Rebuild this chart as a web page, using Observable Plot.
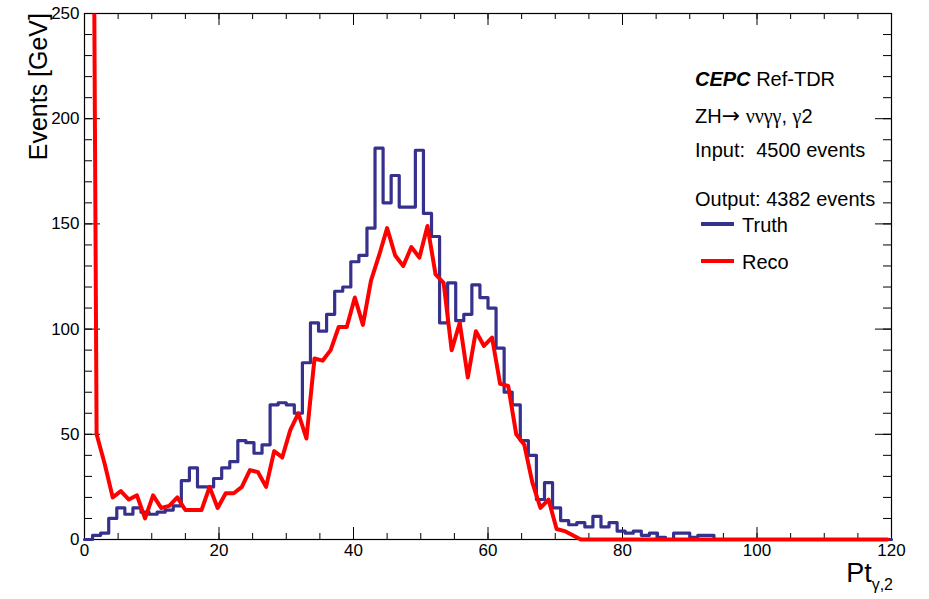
<!DOCTYPE html>
<html><head><meta charset="utf-8">
<script src="https://cdn.jsdelivr.net/npm/d3@7"></script>
<script src="https://cdn.jsdelivr.net/npm/@observablehq/plot@0.6"></script>
<style>
html,body{margin:0;padding:0;background:#fff;}
#chart{width:929px;height:599px;}
</style></head><body><div id="chart"></div>
<script>
// Histogram binning: 100 bins of 1.2 GeV from 0 to 120
const binWidth = 1.2;
const truth = [
  0, 2, 3, 10, 15, 12, 15, 13, 12, 13,
  14, 16, 28, 34, 25, 25, 29, 34, 37, 47,
  46, 41, 45, 64, 65, 64, 60, 84, 103, 99,
  107, 118, 120, 132, 135, 148, 186, 160, 173, 158,
  158, 185, 155, 144, 103, 122, 104, 107, 121, 115,
  110, 91, 70, 64, 47, 40, 19, 27, 15, 9,
  7, 8, 6, 11, 6, 8, 4, 3, 4, 2,
  3, 1, 0, 3, 3, 1, 2, 2, 0, 0,
  0, 0, 0, 0, 0, 0, 0, 0, 0, 0,
  0, 0, 0, 0, 0, 0, 0, 0, 0, 0
];
const reco = [
  757, 50, 36, 20, 23, 19, 21, 10, 21, 15,
  16, 20, 14, 14, 14, 25, 15, 22, 22, 25,
  33, 32, 25, 42, 39, 52, 60, 48, 86, 85,
  90, 101, 101, 115, 102, 123, 135, 148, 135, 130,
  139, 134, 149, 126, 122, 90, 103, 77, 99, 92,
  96, 74, 73, 50, 45, 27, 15, 19, 5, 4,
  2, 0, 0, 0, 0, 0, 0, 0, 0, 0,
  0, 0, 0, 0, 0, 0, 0, 0, 0, 0,
  0, 0, 0, 0, 0, 0, 0, 0, 0, 0,
  0, 0, 0, 0, 0, 0, 0, 0, 0, 0
];
const xTicks = [0, 20, 40, 60, 80, 100, 120];
const xMinorTicks = d3.range(0, 121, 5);
const yTicks = [0, 50, 100, 150, 200, 250];
const yMinorTicks = d3.range(0, 251, 10);
const seriesNames = ["Truth", "Reco"];
const seriesColors = ["#36318d", "#ff0000"];
const yLabel = "Events [GeV]";
const infoLines = ["ZH", "Input:  4500 events", "Output: 4382 events"];

const truthSteps = truth.map((v, i) => ({x: i * binWidth, y: v}))
  .concat([{x: truth.length * binWidth, y: truth[truth.length - 1]}]);
const recoPts = reco.map((v, i) => ({x: (i + 0.5) * binWidth, y: v}));

const W = 929, H = 599, mL = 84, mR = 38, mT = 13, mB = 60;
const fw = W - mL - mR, fh = H - mT - mB;
const FONT = "'Liberation Sans', Arial, Helvetica, sans-serif";
const SERIF = "'Liberation Serif', 'DejaVu Serif', serif";

const plot = Plot.plot({
  width: W, height: H,
  marginLeft: mL, marginRight: mR, marginTop: mT, marginBottom: mB,
  style: {fontFamily: FONT, background: "#fff", color: "#000", overflow: "visible"},
  x: {domain: [0, 120]},
  y: {domain: [0, 250]},
  marks: [
    Plot.frame({stroke: "#000", strokeWidth: 1.2}),
    Plot.tickX(xMinorTicks, {x: d => d, insetTop: fh - 6, stroke: "#000"}),
    Plot.tickX(xTicks, {x: d => d, insetTop: fh - 12, stroke: "#000"}),
    Plot.tickX(xMinorTicks, {x: d => d, insetBottom: fh - 6, stroke: "#000"}),
    Plot.tickX(xTicks, {x: d => d, insetBottom: fh - 12, stroke: "#000"}),
    Plot.tickY(yMinorTicks, {y: d => d, insetRight: fw - 8, stroke: "#000"}),
    Plot.tickY(yTicks, {y: d => d, insetRight: fw - 16, stroke: "#000"}),
    Plot.tickY(yMinorTicks, {y: d => d, insetLeft: fw - 8, stroke: "#000"}),
    Plot.tickY(yTicks, {y: d => d, insetLeft: fw - 16, stroke: "#000"}),
    Plot.axisX({ticks: xTicks, tickSize: 0, tickPadding: 4, fontSize: 17, label: null}),
    Plot.axisY({ticks: yTicks, tickSize: 0, tickPadding: 5, fontSize: 17, label: null}),
    Plot.line(truthSteps, {x: "x", y: "y", curve: "step-after", stroke: seriesColors[0], strokeWidth: 3.2}),
    Plot.line(recoPts, {x: "x", y: "y", stroke: seriesColors[1], strokeWidth: 4})
  ]
});
document.getElementById("chart").appendChild(plot);

const svg = d3.select(plot);
// clip reco to frame (allow a few px below so the zero-line is fully visible)
svg.append("defs").append("clipPath").attr("id", "frameclip")
  .append("rect").attr("x", mL).attr("y", mT).attr("width", fw + 4).attr("height", fh + 5);
svg.selectAll("g").filter(function () {
  const s = (this.getAttribute("stroke") || "").toLowerCase();
  return s === seriesColors[1];
}).attr("clip-path", "url(#frameclip)");

// Y axis title
svg.append("text")
  .attr("transform", `translate(47,${mT}) rotate(-90)`)
  .attr("text-anchor", "end")
  .attr("font-family", FONT).attr("font-size", 25).attr("fill", "#000")
  .text(yLabel);

// X axis title Pt_{γ,2}
const xt = svg.append("text")
  .attr("x", 893).attr("y", 582).attr("text-anchor", "end")
  .attr("font-family", FONT).attr("font-size", 27).attr("fill", "#000");
xt.append("tspan").text("Pt");
xt.append("tspan").attr("font-size", 16).attr("dy", 8).text("γ,2");

// Info block
const tx = 695;
const t1 = svg.append("text").attr("x", tx).attr("y", 86).attr("text-anchor", "start")
  .attr("font-family", FONT).attr("font-size", 20).attr("fill", "#000");
t1.append("tspan").attr("font-weight", "bold").attr("font-style", "italic").text("CEPC");
t1.append("tspan").text(" Ref-TDR");

const t2 = svg.append("text").attr("x", tx).attr("y", 123).attr("text-anchor", "start")
  .attr("font-family", FONT).attr("font-size", 20).attr("fill", "#000")
  .style("white-space", "pre");
t2.append("tspan").text(infoLines[0]);
t2.append("tspan").attr("font-family", "'DejaVu Sans', sans-serif").attr("font-size", 22).text("→");
t2.append("tspan").text(" ");
t2.append("tspan").attr("font-family", SERIF).text("ννγγ");
t2.append("tspan").text(", ");
t2.append("tspan").attr("font-family", SERIF).text("γ");
t2.append("tspan").text("2");

svg.append("text").attr("x", tx).attr("y", 157).attr("text-anchor", "start")
  .attr("font-family", FONT).attr("font-size", 20).attr("fill", "#000")
  .style("white-space", "pre").text(infoLines[1]);
svg.append("text").attr("x", tx).attr("y", 206).attr("text-anchor", "start")
  .attr("font-family", FONT).attr("font-size", 20).attr("fill", "#000")
  .style("white-space", "pre").text(infoLines[2]);

// Legend
const legY = [224, 261];
seriesNames.forEach((name, i) => {
  svg.append("line").attr("x1", 701).attr("x2", 734).attr("y1", legY[i]).attr("y2", legY[i])
    .attr("stroke", seriesColors[i]).attr("stroke-width", 4);
  svg.append("text").attr("x", 742).attr("y", legY[i] + 7.5).attr("text-anchor", "start")
    .attr("font-family", FONT).attr("font-size", 20).attr("fill", "#000").text(name);
});
</script>
</body></html>
